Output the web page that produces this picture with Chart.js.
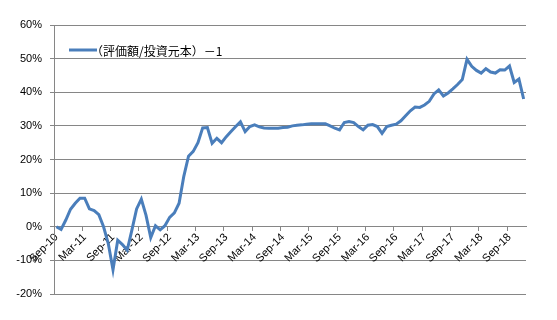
<!DOCTYPE html>
<html>
<head>
<meta charset="utf-8">
<script src="https://cdn.jsdelivr.net/npm/chart.js@4"></script>
<style>
  html, body { margin: 0; padding: 0; background: #fff; }
  #wrap { width: 557px; height: 320px; }
</style>
</head>
<body>
<div id="wrap"><canvas id="myChart" width="557" height="320"></canvas></div>
<script>
// monthly categories, Sep-10 .. Dec-18
let months = [
  "Sep-10","Oct-10","Nov-10","Dec-10",
  "Jan-11","Feb-11","Mar-11","Apr-11","May-11","Jun-11","Jul-11","Aug-11","Sep-11","Oct-11","Nov-11","Dec-11",
  "Jan-12","Feb-12","Mar-12","Apr-12","May-12","Jun-12","Jul-12","Aug-12","Sep-12","Oct-12","Nov-12","Dec-12",
  "Jan-13","Feb-13","Mar-13","Apr-13","May-13","Jun-13","Jul-13","Aug-13","Sep-13","Oct-13","Nov-13","Dec-13",
  "Jan-14","Feb-14","Mar-14","Apr-14","May-14","Jun-14","Jul-14","Aug-14","Sep-14","Oct-14","Nov-14","Dec-14",
  "Jan-15","Feb-15","Mar-15","Apr-15","May-15","Jun-15","Jul-15","Aug-15","Sep-15","Oct-15","Nov-15","Dec-15",
  "Jan-16","Feb-16","Mar-16","Apr-16","May-16","Jun-16","Jul-16","Aug-16","Sep-16","Oct-16","Nov-16","Dec-16",
  "Jan-17","Feb-17","Mar-17","Apr-17","May-17","Jun-17","Jul-17","Aug-17","Sep-17","Oct-17","Nov-17","Dec-17",
  "Jan-18","Feb-18","Mar-18","Apr-18","May-18","Jun-18","Jul-18","Aug-18","Sep-18","Oct-18","Nov-18","Dec-18"
];

// (評価額/投資元本)-1, in percent
let ratio = [
  0, -0.8, 2, 5.2, 7, 8.5, 8.5, 5.3, 4.8, 3.6,
  0, -5, -12.8, -4, -5.3, -7, -1, 5.3, 8.2, 3.4,
  -3.2, 0.3, -0.9, 0.3, 2.8, 4.1, 7, 15, 21, 22.4,
  25, 29.4, 29.5, 24.8, 26.3, 25, 26.8, 28.3, 29.8, 31.2,
  28.3, 29.8, 30.3, 29.7, 29.4, 29.3, 29.3, 29.3, 29.5, 29.6,
  30, 30.2, 30.3, 30.5, 30.6, 30.6, 30.6, 30.6, 30, 29.3,
  28.8, 31, 31.3, 31, 29.8, 28.8, 30.2, 30.4, 29.8, 27.8,
  29.8, 30.2, 30.5, 31.5, 33, 34.5, 35.6, 35.5, 36.2, 37.3,
  39.5, 40.7, 38.9, 39.8, 41, 42.3, 43.8, 49.8, 47.7, 46.5,
  45.7, 47, 46, 45.7, 46.7, 46.6, 47.8, 42.9, 43.9, 38
];

let seriesName = "（評価額/投資元本）－1";
let yTicks = [-20, -10, 0, 10, 20, 30, 40, 50, 60];
let labelEvery = 6;

let lineColor = "#4a7ebb";
let gridColor = "#868686";

// legend sits inside the plot, top left, like the excel one
let insideLegend = {
    id: "insideLegend",
    afterDraw: function(chart) {
        var c = chart.ctx;
        var a = chart.chartArea;
        var y = a.top + 25;
        c.save();
        c.strokeStyle = lineColor;
        c.lineWidth = 3;
        c.beginPath();
        c.moveTo(a.left + 15, y);
        c.lineTo(a.left + 43, y);
        c.stroke();
        c.font = '12px "Noto Sans CJK JP"';
        c.fillStyle = "#000";
        c.textBaseline = "middle";
        c.fillText(seriesName, a.left + 37, y + 1);
        c.restore();
    }
};

function generateChart() {
    var ctx = document.getElementById("myChart").getContext("2d");
    var myChart = new Chart(ctx, {
      type: "line",
      data: {
        labels: months,
        datasets: [{
          label: seriesName,
          data: ratio,
          borderColor: lineColor,
          borderWidth: 3,
          pointRadius: 0,
          tension: 0,
          fill: false
        }]
      },
      options: {
        responsive: false,
        animation: false,
        layout: { padding: { top: 25, right: 31, bottom: 26, left: 0 } },
        plugins: {
          legend: { display: false },
          tooltip: { enabled: false }
        },
        scales: {
          x: {
            type: "category",
            position: { y: 0 },
            offset: true,
            afterFit: function(scale) { scale.height = 0; },
            grid: {
              offset: true,
              drawOnChartArea: false,
              drawTicks: true,
              tickLength: 4,
              color: function(c) { return c.index % labelEvery === 0 ? gridColor : "rgba(0,0,0,0)"; }
            },
            border: { display: true, color: gridColor },
            ticks: {
              autoSkip: false,
              minRotation: 45,
              maxRotation: 45,
              padding: 0,
              color: "#000",
              font: { family: "Liberation Sans", size: 11 },
              callback: function(val, idx) {
                return idx % labelEvery === 0 ? months[idx] : "";
              }
            }
          },
          y: {
            min: yTicks[0],
            max: yTicks[yTicks.length - 1],
            afterFit: function(scale) { scale.width = 54; },
            afterBuildTicks: function(scale) {
              scale.ticks = yTicks.map(function(v) { return { value: v }; });
            },
            grid: { color: gridColor, tickLength: 4, lineWidth: 1 },
            border: { display: true, color: gridColor },
            ticks: {
              padding: 8,
              color: "#000",
              font: { family: "Liberation Sans", size: 11 },
              callback: function(v) { return v + "%"; }
            }
          }
        }
      },
      plugins: [insideLegend]
    });
}

document.addEventListener("DOMContentLoaded", function() {
    generateChart();
});
</script>
</body>
</html>
